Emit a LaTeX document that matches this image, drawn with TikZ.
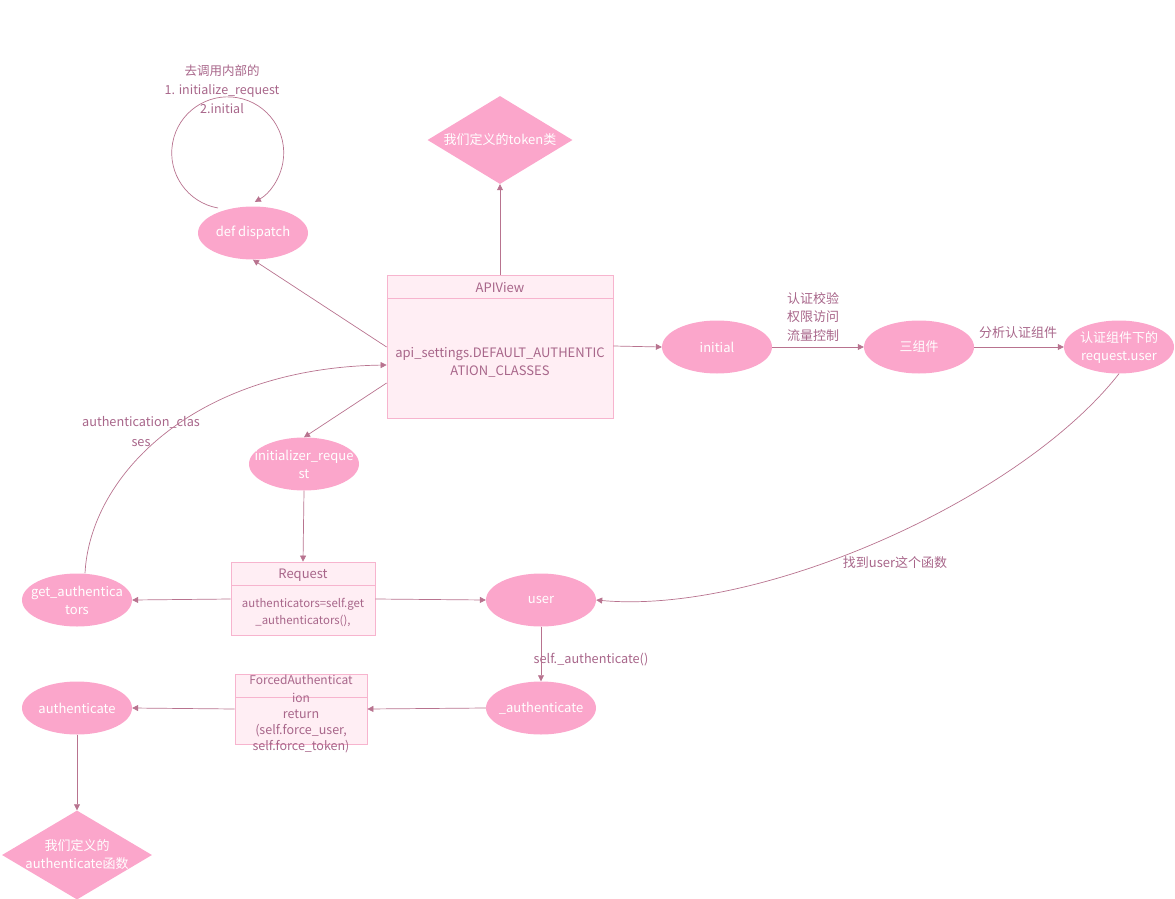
\documentclass[tikz,border=0pt]{standalone}
\usepackage{fontspec}
\setmainfont{Noto Sans CJK SC}
\usetikzlibrary{arrows.meta,shapes.geometric}
\definecolor{lnc}{HTML}{B8738F}
\definecolor{txc}{HTML}{A8668A}
\definecolor{elf}{HTML}{FBA6CB}
\definecolor{bxf}{HTML}{FFEEF4}
\definecolor{bxd}{HTML}{F7B4CE}
\tikzset{
  x=1pt,y=-1pt,
  every node/.style={font=\fontsize{12.7}{18}\selectfont, inner sep=0pt},
  ell/.style={ellipse, fill=elf, text=white, minimum width=110, minimum height=53, align=center,
     inner xsep=-20pt, inner ysep=0pt, font=\fontsize{13}{18}\selectfont},
  dia/.style={diamond, fill=elf, text=white, align=center, inner sep=-20pt, font=\fontsize{13}{18}\selectfont},
  box/.style={rectangle, draw=bxd, fill=bxf, line width=0.8pt},
  lbl/.style={text=txc, align=center},
  conn/.style={draw=lnc, line width=0.7pt, -{Triangle[width=6pt,length=6pt]}},
}
\begin{document}
\begin{tikzpicture}
\useasboundingbox (0,0) rectangle (1175,899);
% nodes
\node[ell] (dispatch) at (253,233) {def dispatch};
\node[dia, minimum width=145, minimum height=88] (token) at (500,140) {我们定义的token类};
\node[box, minimum width=226, minimum height=143] (apiview) at (500,346.5) {};
\draw[bxd, line width=0.8pt] (387,298) -- (613,298);
\node[lbl, font=\fontsize{13}{18}\selectfont] (apititle) at (500,288) {APIView};
\node[lbl, font=\fontsize{13}{18}\selectfont] (apibody) at (500,362) {api\_settings.DEFAULT\_AUTHENTIC\\ATION\_CLASSES};
\node[ell] (initial) at (717,347) {initial};
\node[ell] (three) at (919,347) {三组件};
\node[ell] (requser) at (1119,347) {认证组件下的\\request.user};
\node[ell] (initreq) at (304,464) {initializer\_reque\\st};
\node[box, minimum width=144, minimum height=73] (request) at (303,598.5) {};
\draw[bxd, line width=0.8pt] (231,585) -- (375,585);
\node[lbl, font=\fontsize{13}{18}\selectfont] (reqtitle) at (303,575) {Request};
\node[lbl, font=\fontsize{11.4}{17}\selectfont] (reqbody) at (303,612.5) {authenticators=self.get\\\_authenticators(),};
\node[ell] (getauth) at (77,600) {get\_authentica\\tors};
\node[ell] (user) at (541,600) {user};
\node[ell] (authpriv) at (541,708) {\_authenticate};
\node[box, minimum width=132, minimum height=70] (forced) at (301,709) {};
\draw[bxd, line width=0.8pt] (235,697) -- (367,697);
\node[lbl, font=\fontsize{12}{18}\selectfont] (forcedtitle) at (301,689) {ForcedAuthenticat\\ion};
\node[lbl, font=\fontsize{12.5}{16}\selectfont] (forcedbody) at (301,731) {return\\(self.force\_user,\\self.force\_token)};
\node[ell] (authenticate) at (77,708) {authenticate};
\node[dia, minimum width=150, minimum height=89] (authfunc) at (77,855) {我们定义的\\authenticate函数};
% labels
\node[lbl, font=\fontsize{12.5}{19}\selectfont] (looplbl) at (222,89) {去调用内部的\\1. initialize\_request\\2.initial};
\node[lbl, align=left, font=\fontsize{13}{18.5}\selectfont] (threelbl) at (813,317) {认证校验\\权限访问\\流量控制};
\node[lbl, font=\fontsize{13}{18}\selectfont] (anlbl) at (1018,333) {分析认证组件};
\node[lbl, font=\fontsize{13}{18}\selectfont] (findlbl) at (895,563) {找到user这个函数};
\node[lbl, font=\fontsize{12.7}{20}\selectfont] (aclbl) at (141,432) {authentication\_clas\\ses};
\node[lbl] (salbl) at (591,660) {self.\_authenticate()};
% connectors
\coordinate (loopstart) at (218,208);
\draw[conn] (loopstart) arc[start angle=100, end angle=421, radius=56];
\draw[conn] (apiview.north) -- (token.south);
\draw[conn] (apiview.west |- 0,347) -- (dispatch.south);
\draw[conn] (apiview.east |- 0,346) -- (initial.west);
\draw[conn] (initial.east) -- (three.west);
\draw[conn] (three.east) -- (requser.west);
\draw[conn] (apiview.west |- 0,383) -- (initreq.north);
\draw[conn] (initreq.south) -- (request.north);
\draw[conn] (request.west |- 0,599) -- (getauth.east);
\draw[conn] (request.east |- 0,599) -- (user.west);
\draw[conn] (getauth.north) ++(8,0) coordinate (gan) .. controls (90,475) and (195,368) .. (apiview.west |- 0,365);
\draw[conn] (requser.south) .. controls (1020,500) and (760,615) .. (user.east);
\draw[conn] (user.south) -- (authpriv.north);
\draw[conn] (authpriv.west) -- (forced.east);
\draw[conn] (forced.west) -- (authenticate.east);
\draw[conn] (authenticate.south) -- (authfunc.north);
\end{tikzpicture}
\end{document}
